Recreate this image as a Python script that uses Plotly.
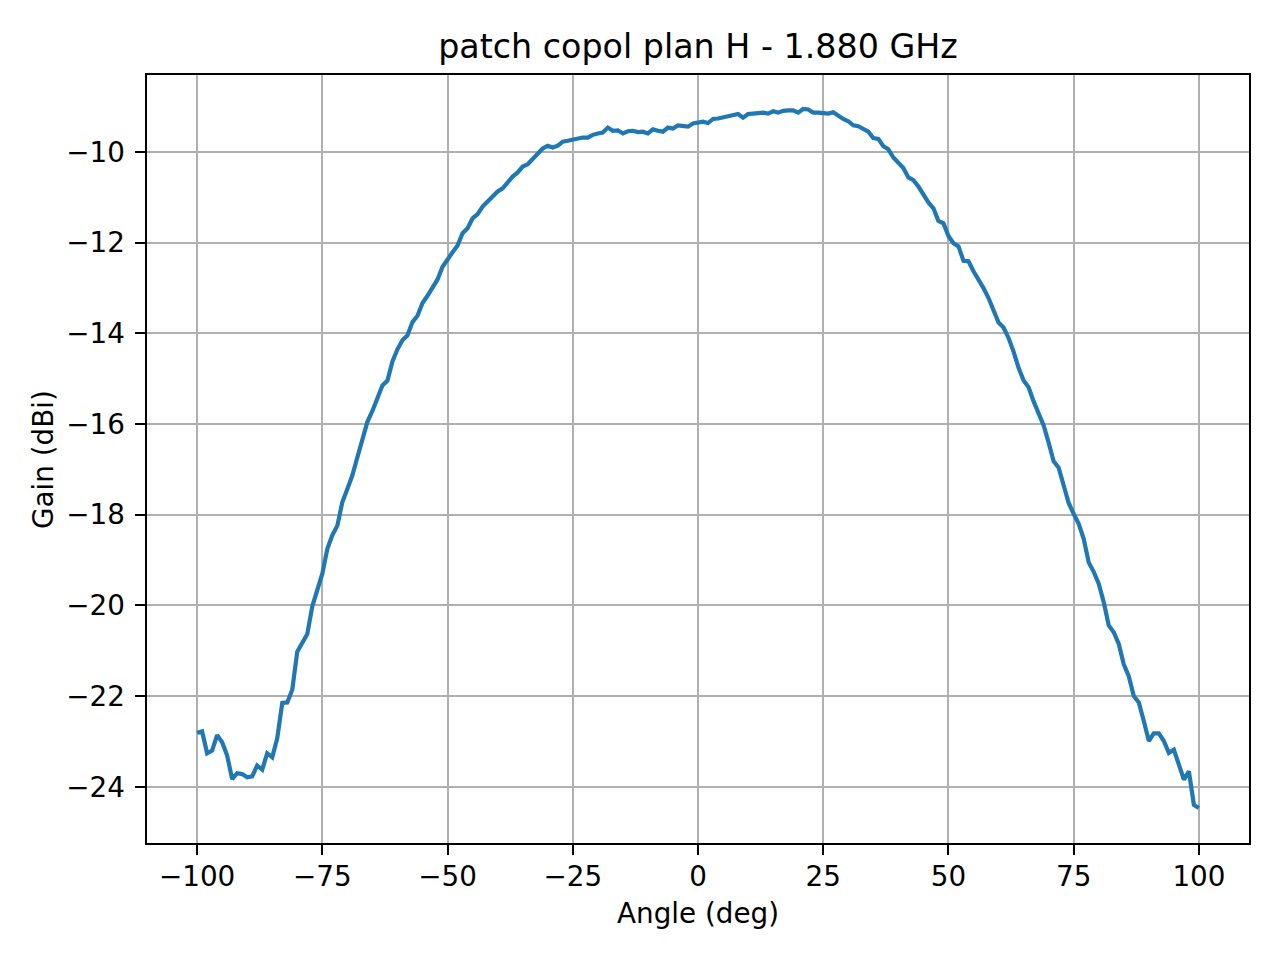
import plotly.graph_objects as go

# angle in degrees, 1 degree step
angle = list(range(-100, 101))

gain_neg = [
    -22.81, -22.78, -23.26, -23.20, -22.86, -23.02, -23.31, -23.83, -23.70, -23.72,   # -100 .. -91
    -23.79, -23.77, -23.53, -23.62, -23.26, -23.35, -22.93, -22.15, -22.14, -21.86,   # -90 .. -81
    -21.02, -20.81, -20.63, -20.02, -19.65, -19.30, -18.75, -18.45, -18.24, -17.72,   # -80 .. -71
    -17.43, -17.13, -16.73, -16.33, -15.95, -15.71, -15.42, -15.15, -15.04, -14.62,   # -70 .. -61
    -14.35, -14.15, -14.04, -13.75, -13.61, -13.33, -13.17, -13.00, -12.81, -12.53,   # -60 .. -51
    -12.35, -12.21, -12.06, -11.79, -11.68, -11.46, -11.37, -11.20, -11.09, -10.98,   # -50 .. -41
    -10.87, -10.80, -10.67, -10.54, -10.45, -10.32, -10.27, -10.16, -10.04, -9.92,    # -40 .. -31
    -9.86, -9.90, -9.86, -9.77, -9.75, -9.72, -9.69, -9.68, -9.68, -9.62,             # -30 .. -21
    -9.59, -9.57, -9.46, -9.53, -9.52, -9.59, -9.54, -9.53, -9.56, -9.55,             # -20 .. -11
    -9.59, -9.50, -9.53, -9.55, -9.46, -9.48, -9.41, -9.42, -9.44, -9.37,             # -10 .. -1
]
gain_pos = [
    -9.36, -9.33, -9.36, -9.27, -9.26, -9.24, -9.22, -9.19, -9.16, -9.24,             # 0 .. 9
    -9.16, -9.15, -9.13, -9.13, -9.15, -9.10, -9.13, -9.09, -9.08, -9.08,             # 10 .. 19
    -9.13, -9.05, -9.06, -9.13, -9.13, -9.15, -9.15, -9.12, -9.20, -9.27,             # 20 .. 29
    -9.32, -9.41, -9.43, -9.48, -9.55, -9.69, -9.71, -9.87, -9.94, -10.12,            # 30 .. 39
    -10.24, -10.35, -10.56, -10.62, -10.76, -10.95, -11.11, -11.24, -11.52, -11.57,   # 40 .. 49
    -11.85, -12.01, -12.08, -12.40, -12.41, -12.63, -12.80, -13.00, -13.22, -13.48,   # 50 .. 59
    -13.76, -13.87, -14.10, -14.40, -14.76, -15.04, -15.19, -15.50, -15.75, -16.03,   # 60 .. 69
    -16.41, -16.82, -16.96, -17.34, -17.74, -17.98, -18.20, -18.53, -19.05, -19.26,   # 70 .. 79
    -19.52, -19.93, -20.44, -20.59, -20.85, -21.30, -21.56, -22.00, -22.14, -22.55,   # 80 .. 89
    -22.99, -22.82, -22.82, -22.99, -23.25, -23.18, -23.48, -23.84, -23.66, -24.40,   # 90 .. 99
    -24.47,                                                                           # 100
]
gain = gain_neg + gain_pos

x_ticks = [-100, -75, -50, -25, 0, 25, 50, 75, 100]
y_ticks = [-24, -22, -20, -18, -16, -14, -12, -10]


def mpl_label(v):
    # matplotlib uses a real minus sign
    return str(v).replace("-", "\u2212")


FONT = "DejaVu Sans"

fig = go.Figure()
fig.add_trace(go.Scatter(x=angle, y=gain, mode="lines",
                         line=dict(color="#1f77b4", width=4.2)))

axis_common = dict(
    showline=True, linecolor="black", linewidth=2.2, mirror=True,
    showgrid=True, gridcolor="#b0b0b0", gridwidth=2.2,
    zeroline=False,
    ticks="outside", ticklen=9.5, tickwidth=2.2, tickcolor="black",
    tickfont=dict(family=FONT, size=27.8, color="black"),
)

fig.update_xaxes(range=[-110, 110], tickvals=x_ticks,
                 ticktext=[mpl_label(v) for v in x_ticks], ticklabelstandoff=-2, **axis_common)
fig.update_yaxes(range=[-25.24, -8.30], tickvals=y_ticks,
                 ticktext=[mpl_label(v) for v in y_ticks], ticklabelstandoff=5, **axis_common)

# page body has an 8px margin, so the plot box is shifted back by that much
fig.update_layout(
    width=1280, height=960,
    margin=dict(l=139, r=39, t=67, b=125, pad=0),
    paper_bgcolor="white", plot_bgcolor="white",
    showlegend=False,
    font=dict(family=FONT, color="black"),
    title=dict(text="patch copol plan H - 1.880 GHz", x=0.5, xref="paper", xanchor="center",
               y=1 - 38 / 960, yref="container", yanchor="middle",
               font=dict(family=FONT, size=33.3, color="black")),
    annotations=[
        dict(text="Angle (deg)", xref="paper", yref="paper", x=0.5, y=-(913 - 843) / 768,
             xanchor="center", yanchor="middle", showarrow=False,
             font=dict(family=FONT, size=27.8, color="black")),
        dict(text="Gain (dBi)", xref="paper", yref="paper", x=-(147 - 43) / 1102, y=0.5,
             xanchor="center", yanchor="middle", textangle=-90, showarrow=False,
             font=dict(family=FONT, size=27.8, color="black")),
    ],
)

fig.write_html("out.html")
